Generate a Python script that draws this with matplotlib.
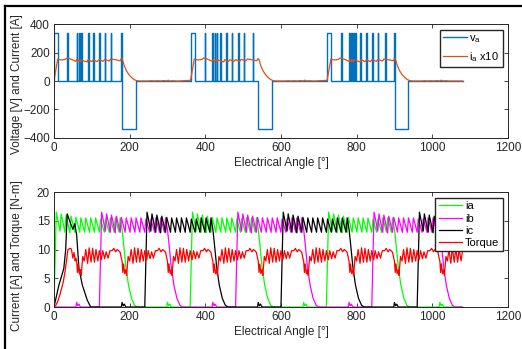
import numpy as np
import matplotlib
matplotlib.use('Agg')
import matplotlib.pyplot as plt
from matplotlib.lines import Line2D

plt.rcParams['font.family'] = ['Liberation Sans', 'DejaVu Sans']

angle_end = 1080

# ---------------- top panel data ----------------
v_level = 340
va_on_blocks = [(0, 11), (361, 372), (722, 732)]
va_pulses = [35, 60, 66, 72, 90, 104, 119, 134, 150, 178,
             398, 419, 425, 430, 439, 455, 470, 486, 501, 525,
             759, 781, 785, 790, 796, 810, 825, 841, 856, 875, 900]
va_neg_blocks = [(180, 217), (540, 576), (902, 937)]
pulse_width = 1.8

# i_a x10, one conduction cycle relative to its turn-on angle
ia10_cycle_start = [0, 361, 722]
ia10_rel = [0, 10, 14, 22, 30, 35, 40, 48, 58, 60, 63, 66, 69, 72, 80, 88, 90,
            100, 104, 114, 119, 130, 134, 146, 150, 165, 175, 178, 181, 186,
            192, 198, 205, 212, 218, 225]
ia10_val = [5, 155, 150, 148, 152, 162, 158, 150, 138, 152, 136, 150, 135, 148,
            140, 134, 150, 136, 150, 136, 150, 138, 152, 140, 155, 148, 142,
            158, 150, 105, 70, 45, 25, 10, 3, 0]
# small ripple while the phase is off
ia10_off_rel = [250, 258, 266, 274, 282, 290, 298, 302, 306, 314, 322, 330]
ia10_off_val = [0, 2, 0, 2, 0, 3, 0, 6, 0, 2, 0, 0]

# ---------------- bottom panel data ----------------
# phase current during one conduction, relative to turn-on angle
cur_rel = [0, 6, 16, 19, 29, 32, 42, 45, 55, 58, 68, 71, 81, 84, 94, 97, 107,
           110, 120, 123, 133, 136, 146, 149, 159, 162, 172, 175, 180, 184,
           190, 197, 205, 213, 220]
cur_val = [0, 16.5, 13.2, 16.2, 13, 16, 12.9, 15.8, 13, 15.6, 13, 15.5, 13,
           15.5, 13, 15.5, 13, 15.5, 13, 15.3, 13, 15.3, 13, 15.5, 13, 15.5,
           13, 15.5, 13.5, 11, 7, 3.8, 1.5, 0.3, 0]
bump_rel = [-2, 0, 3, 6, 10]
bump_val = [0, 0.8, 0.2, 0.5, 0]

ia_on = [0, 360, 720]
ib_on = [120, 480, 840]
ic_on = [240, 600, 960]
ia_bumps = [300, 660, 1020]
ib_bumps = [60, 420, 780]
ic_bumps = [180, 540, 900]
# ic start-up transient at the beginning of the run
ic_start_deg = [0, 13, 26, 31, 35, 44, 50, 55, 60, 66, 75, 88, 97]
ic_start_val = [0, 3.8, 6.7, 10, 16.2, 14.5, 13.5, 14.5, 12.5, 6.7, 3.8, 1.2, 0]

# torque: start-up, then a ripple period repeated every 120 deg
tq_start_deg = [0, 5, 10, 15, 20, 25, 30, 34, 37, 42, 46, 50, 53, 56, 58]
tq_start_val = [0, 0.3, 1, 2, 3.2, 4.5, 6.5, 8.5, 10, 10.2, 10.1, 8.5, 9.5, 8, 8.5]
tq_period_start = [60, 180, 300, 420, 540, 660, 780, 900, 1020]
tq_rel = [0, 2, 4, 7, 10, 12, 16, 20, 24, 29, 33, 38, 42, 47, 51, 56, 60,
          65, 69, 74, 78, 83, 88, 94, 98, 103, 107, 111, 115, 118]
tq_val = [8, 6, 7.5, 5.8, 6.5, 5.5, 8.8, 8.0, 10, 7.6, 10.3, 7.8, 10.2, 7.8,
          10, 8, 9.8, 8.2, 9.8, 8.4, 9.6, 8.5, 9.8, 9.8, 10.2, 9.6, 10, 9.8,
          9.5, 8.5]


def step_voltage():
    segs = [(a, b, v_level) for a, b in va_on_blocks]
    segs += [(p, p + pulse_width, v_level) for p in va_pulses]
    segs += [(a, b, -v_level) for a, b in va_neg_blocks]
    segs.sort()
    x, y = [], []
    for a, b, lvl in segs:
        x += [a, a, b, b]
        y += [0, lvl, lvl, 0]
    x.append(angle_end)
    y.append(0)
    return np.array(x), np.array(y)


def place(starts, rel, val, pre_x=None, pre_y=None, extra=None):
    pts = []
    if pre_x is not None:
        pts += list(zip(pre_x, pre_y))
    for s in starts:
        pts += [(s + r, v) for r, v in zip(rel, val)]
    if extra is not None:
        for s in extra[0]:
            pts += [(s + r, v) for r, v in zip(extra[1], extra[2])]
    pts = sorted(p for p in pts if 0 <= p[0] <= angle_end)
    if pts[0][0] > 0:
        pts.insert(0, (0, 0))
    if pts[-1][0] < angle_end:
        pts.append((angle_end, pts[-1][1]))
    x, y = zip(*pts)
    return np.array(x), np.array(y)


fs = 8.5
dark = '#262626'


def style_axes(ax, ylabel, ylab_y):
    ax.set_xlim(0, 1200)
    ax.set_xticks(range(0, 1201, 200))
    ax.tick_params(direction='in', top=True, right=True, length=3, width=0.6,
                   labelsize=fs, pad=3, colors=dark)
    for s in ax.spines.values():
        s.set_color(dark)
        s.set_linewidth(0.7)
    ax.set_xlabel('Electrical Angle [°]', fontsize=fs, color=dark, labelpad=2)
    ax.set_ylabel(ylabel, fontsize=fs, color=dark)
    ax.yaxis.set_label_coords(-0.068, ylab_y)


def add_legend(ax, spacing):
    ax.legend(loc='upper right', fontsize=8, handlelength=2.1, handletextpad=0.25,
              labelspacing=spacing, borderpad=0.3, borderaxespad=0,
              fancybox=False, framealpha=1, edgecolor=dark,
              bbox_to_anchor=(0.988, 0.948))


fig = plt.figure(figsize=(5.22, 3.49), dpi=100)
ax1 = fig.add_axes([0.1034, 0.6046, 0.8697, 0.3266])
ax2 = fig.add_axes([0.1034, 0.1203, 0.8697, 0.3295])

# top panel
vx, vy = step_voltage()
ix, iy = place(ia10_cycle_start, ia10_rel, ia10_val,
               extra=(ia10_cycle_start, ia10_off_rel, ia10_off_val))
ax1.plot(vx, vy, color='#0072BD', lw=1.0, label=r'$\mathregular{v_a}$')
ax1.plot(ix, iy, color='#D95319', lw=0.9, label=r'$\mathregular{i_a}$ x10')
ax1.set_ylim(-400, 400)
ax1.set_yticks(range(-400, 401, 200))
style_axes(ax1, 'Voltage [V] and Current [A]', 0.47)
add_legend(ax1, 0.45)

# bottom panel
ax_, ay_ = place(ia_on, cur_rel, cur_val, extra=(ia_bumps, bump_rel, bump_val))
bx_, by_ = place(ib_on, cur_rel, cur_val, extra=(ib_bumps, bump_rel, bump_val))
cx_, cy_ = place(ic_on, cur_rel, cur_val, ic_start_deg, ic_start_val,
                 extra=(ic_bumps, bump_rel, bump_val))
tx, ty = place(tq_period_start, tq_rel, tq_val, tq_start_deg, tq_start_val)
ax2.plot(ax_, ay_, color='#00FF00', lw=0.9, label='ia')
ax2.plot(bx_, by_, color='#FF00FF', lw=0.9, label='ib')
ax2.plot(cx_, cy_, color='black', lw=0.9, label='ic')
ax2.plot(tx, ty, color='#FF0000', lw=0.9, label='Torque')
ax2.set_ylim(0, 20)
ax2.set_yticks(range(0, 21, 5))
style_axes(ax2, 'Current [A] and Torque [N-m]', 0.45)
add_legend(ax2, 0.2)

# outer frame of the original figure
fig.add_artist(Line2D([5 / 522, 1], [1 - 6 / 349, 1 - 6 / 349], color='black', lw=1.6))
fig.add_artist(Line2D([5 / 522, 5 / 522], [0, 1 - 6 / 349], color='black', lw=1.6))

fig.savefig('out.png', dpi=100)
